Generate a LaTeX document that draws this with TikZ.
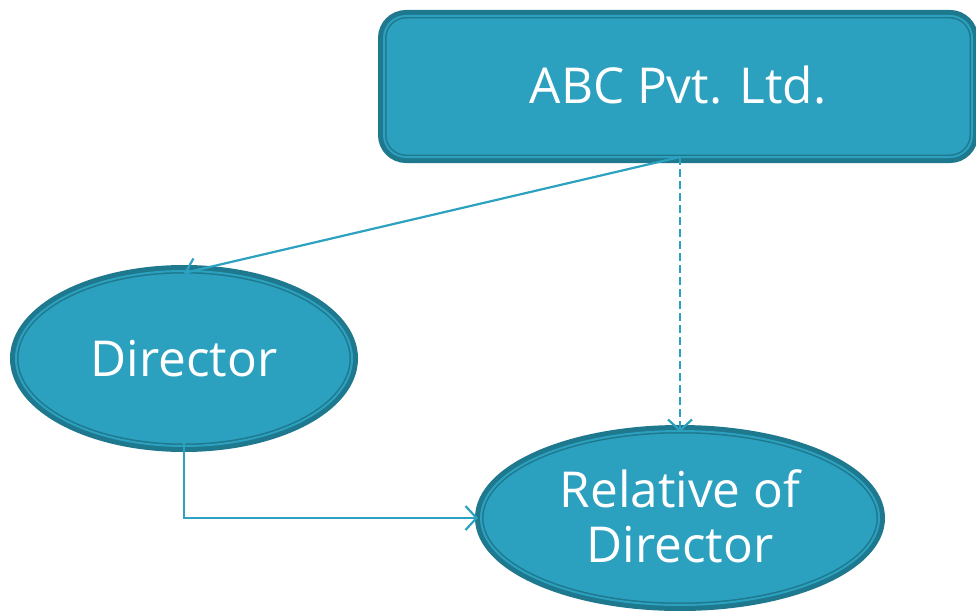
\documentclass[tikz,border=0pt]{standalone}
\usepackage{fontspec}
\setmainfont{Open Sans}
\usetikzlibrary{shapes.geometric,arrows.meta}
\definecolor{boxfill}{HTML}{2CA1BF}
\definecolor{boxdark}{HTML}{1E788E}
\definecolor{linkcol}{HTML}{2CA1C0}
\tikzset{
  shapestyle/.style={fill=boxfill, draw=boxdark, line width=1.5pt,
    double=boxfill, double distance=2pt,
    preaction={draw=boxdark, line width=12pt},
    text=white, inner sep=0pt, outer sep=0pt, align=center,
    font=\fontsize{49.5}{55}\selectfont},
  linkstyle/.style={draw=linkcol, line width=2.2pt,
    -{Straight Barb[length=11pt,width=24pt,line width=2.2pt]}},
}
\begin{document}
\begin{tikzpicture}[x=1pt,y=-1pt]
\useasboundingbox (0,0) rectangle (976,610);
\begin{scope}
\clip (0,0) rectangle (976,610);
\node[shapestyle, rectangle, rounded corners=22pt, minimum width=588pt, minimum height=141pt] (abc) at (678,86.5) {\raisebox{4pt}{ABC Pvt. Ltd.}};
\node[shapestyle, ellipse, minimum width=336pt, minimum height=175pt] (dir) at (184,358.5) {\raisebox{1pt}{Director}};
\node[shapestyle, ellipse, minimum width=398pt, minimum height=174pt] (rel) at (680,518) {\raisebox{3pt}{Relative of}\\\raisebox{3pt}{Director}};
\end{scope}
\draw[linkstyle] ([xshift=2pt]abc.south) -- ([yshift=-2pt]dir.north);
\draw[linkstyle, dash pattern=on 8pt off 4pt] ([xshift=2pt]abc.south) -- ([yshift=-1pt]rel.north);
\draw[linkstyle] ([yshift=4pt]dir.south) |- ([xshift=-3pt]rel.west);
\end{tikzpicture}
\end{document}
